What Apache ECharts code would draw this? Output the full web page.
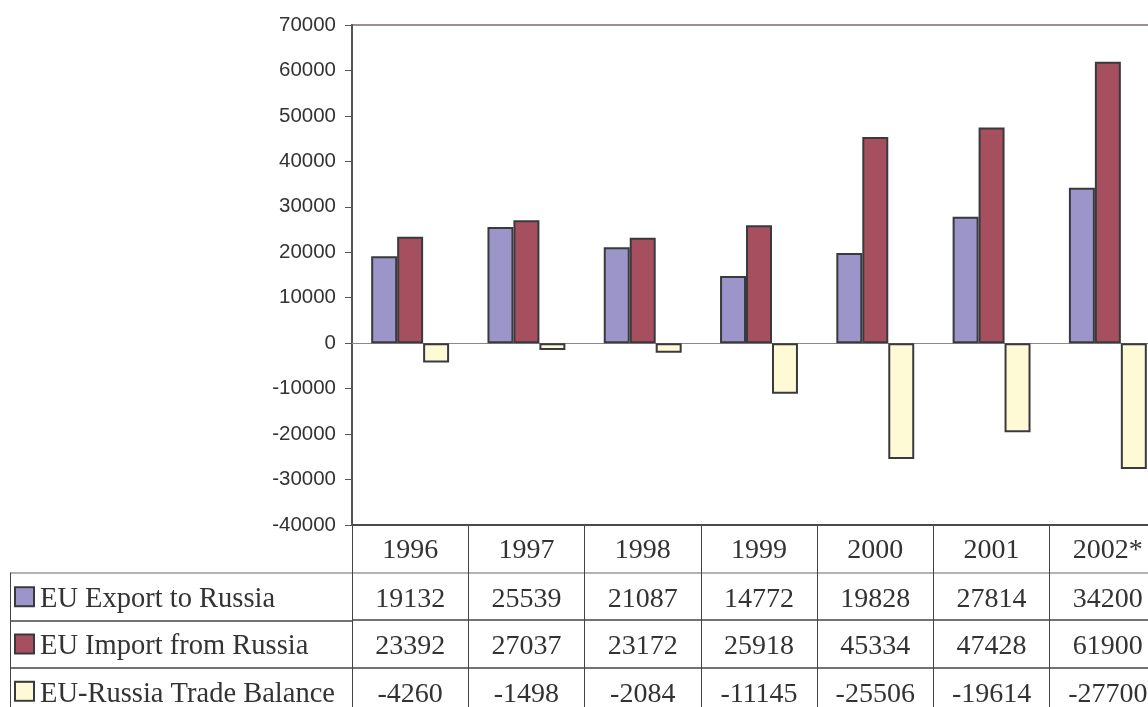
<!DOCTYPE html>
<html>
<head>
<meta charset="utf-8">
<title>EU–Russia Trade</title>
<script src="https://cdn.jsdelivr.net/npm/echarts@6/dist/echarts.min.js"></script>
<style>
  html, body { margin: 0; padding: 0; background: #fff; overflow: hidden; }
  #chart { width: 1170px; height: 730px; }
</style>
</head>
<body>
<div id="chart"></div>
<script>
// Years and trade figures (million EUR)
const years = ['1996', '1997', '1998', '1999', '2000', '2001', '2002*'];
const exportToRussia = [19132, 25539, 21087, 14772, 19828, 27814, 34200];
const importFromRussia = [23392, 27037, 23172, 25918, 45334, 47428, 61900];
const tradeBalance = [-4260, -1498, -2084, -11145, -25506, -19614, -27700];
const seriesNames = ['EU Export to Russia', 'EU Import from Russia', 'EU-Russia Trade Balance'];
const seriesColors = ['#9b95c9', '#a54f5f', '#fffad6'];

const rows = [exportToRussia, importFromRussia, tradeBalance];
const serif = "'Liberation Serif', 'Times New Roman', serif";
const sans = "'Liberation Sans', Arial, sans-serif";
const ink = '#333';
const border = '#3a3a3e';

// Data table cells: [column, row, value]; row 0 is the year header row
const tableCells = [];
rows.forEach((vals, r) => vals.forEach((v, c) => tableCells.push([c, r + 1, v])));

const chart = echarts.init(document.getElementById('chart'));

const legendRich = {
  t: { fontFamily: serif, fontSize: 28.5, color: ink, padding: [6, 0, 0, 7] }
};
seriesColors.forEach((c, i) => {
  legendRich['s' + i] = { width: 17, height: 17, backgroundColor: c, borderColor: border, borderWidth: 2 };
});

chart.setOption({
  animation: false,
  grid: [
    { left: 352, top: 25, width: 814, height: 500, show: true, borderColor: '#9a9090', borderWidth: 2 },
    { left: 352, top: 525, width: 814, height: 190 },
    { left: 10, top: 573, width: 342, height: 142 }
  ],
  xAxis: [
    {
      type: 'category', data: years, gridIndex: 0,
      axisLine: { onZero: true, lineStyle: { color: '#8a8a8a', width: 1 } },
      axisTick: { show: false }, axisLabel: { show: false }
    },
    {
      type: 'category', data: years, gridIndex: 1, position: 'top',
      axisLine: { lineStyle: { color: '#4a4a4a', width: 2 } },
      axisTick: { show: false },
      axisLabel: { inside: true, margin: 12, fontFamily: serif, fontSize: 28, color: ink },
      splitLine: { show: true, lineStyle: { color: '#444', width: 1 } }
    },
    {
      type: 'value', gridIndex: 2, show: false
    }
  ],
  yAxis: [
    {
      type: 'value', gridIndex: 0, min: -40000, max: 70000, interval: 10000,
      axisLine: { show: true, lineStyle: { color: '#555', width: 2 } },
      axisTick: { show: true, length: 7, lineStyle: { color: '#555', width: 1 } },
      axisLabel: { fontFamily: sans, fontSize: 20.5, color: ink, margin: 16, formatter: v => String(v) },
      splitLine: { show: false }
    },
    {
      type: 'category', gridIndex: 1, inverse: true, data: ['', 'a', 'b', 'c'],
      axisLine: { show: true, lineStyle: { color: '#444', width: 1 } },
      axisTick: { show: false }, axisLabel: { show: false },
      splitLine: { show: true, lineStyle: { color: ['#444', '#999', '#444', '#444', '#444'], width: 1.5 } }
    },
    {
      type: 'category', gridIndex: 2, inverse: true, data: seriesNames,
      axisLine: { show: true, lineStyle: { color: '#444', width: 1 } },
      axisTick: { show: false },
      axisLabel: {
        inside: true, margin: 6, align: 'left',
        formatter: (v, i) => '{s' + i + '|}{t|' + v + '}',
        rich: legendRich
      },
      splitLine: { show: true, lineStyle: { color: ['#999', '#444', '#444', '#444'], width: 1.5 } }
    }
  ],
  series: [
    ...rows.map((vals, i) => ({
      name: seriesNames[i], type: 'bar', xAxisIndex: 0, yAxisIndex: 0,
      data: vals, barGap: '0%', barCategoryGap: '33%',
      itemStyle: { color: seriesColors[i], borderColor: border, borderWidth: 2 }
    })),
    {
      type: 'scatter', xAxisIndex: 1, yAxisIndex: 1, symbolSize: 0,
      data: tableCells, silent: true,
      itemStyle: { opacity: 1 },
      label: {
        show: true, position: 'inside', opacity: 1, offset: [0, 3],
        formatter: p => String(p.value[2]),
        fontFamily: serif, fontSize: 28, color: ink
      }
    }
  ]
});
</script>
</body>
</html>
